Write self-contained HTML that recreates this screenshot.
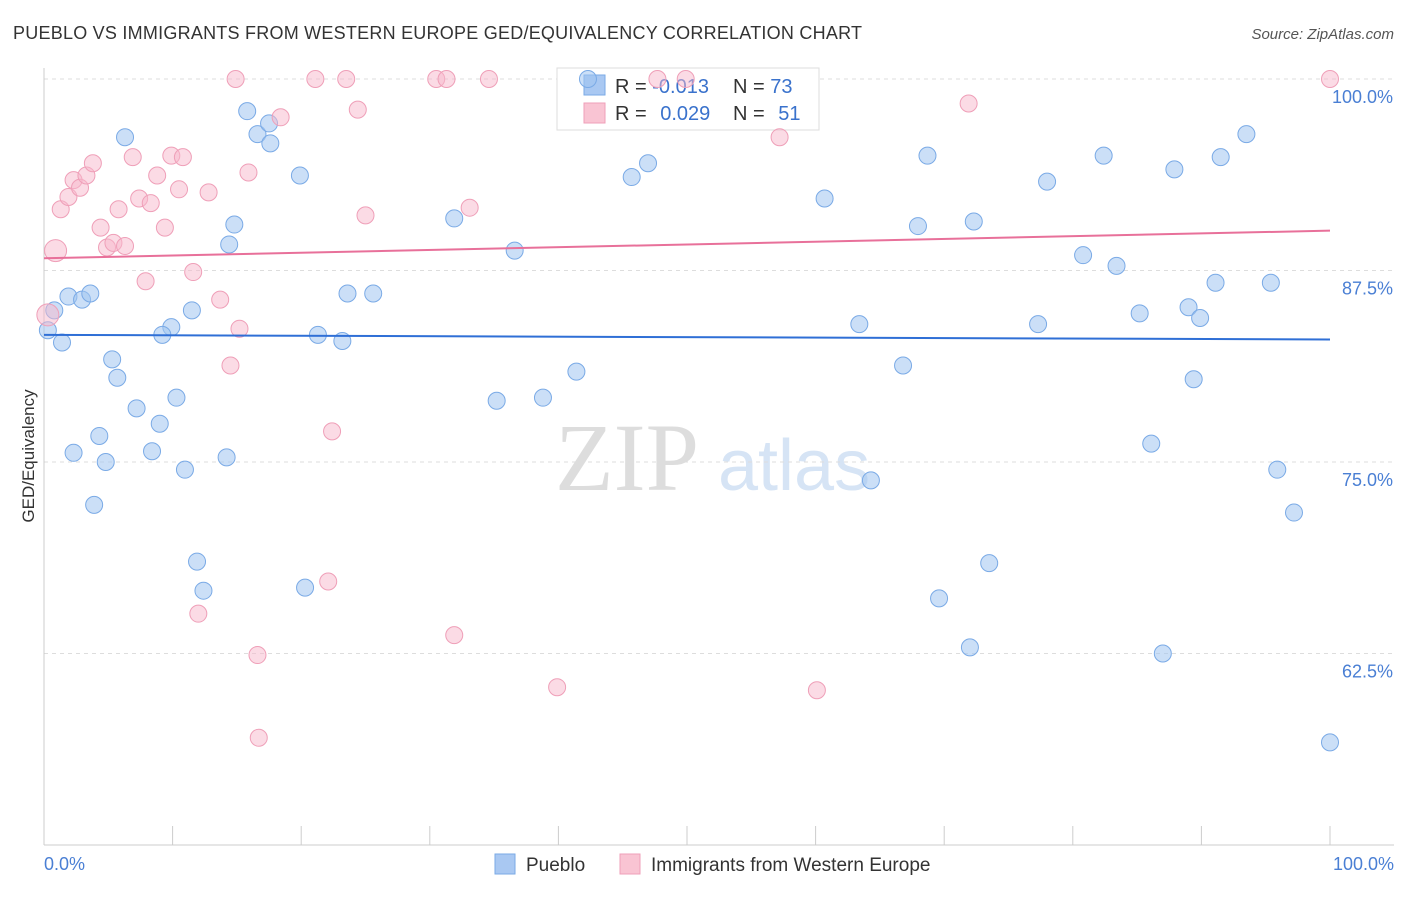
<!DOCTYPE html>
<html><head><meta charset="utf-8"><style>
body{margin:0;background:#fff;font-family:"Liberation Sans",sans-serif}
</style></head><body>
<svg width="1406" height="892" xmlns="http://www.w3.org/2000/svg" font-family="Liberation Sans, sans-serif">
<text x="13" y="39" font-size="18" fill="#333" textLength="849">PUEBLO VS IMMIGRANTS FROM WESTERN EUROPE GED/EQUIVALENCY CORRELATION CHART</text>
<text x="1394" y="39" font-size="15" fill="#555" text-anchor="end" font-style="italic">Source: ZipAtlas.com</text>
<text x="555" y="490" font-size="96" fill="#ddd" font-family="Liberation Serif, serif">ZIP</text>
<text x="718" y="490" font-size="72" fill="#d6e4f5">atlas</text>
<g id="grid"></g>
<line x1="44" y1="845" x2="1394" y2="845" stroke="#ccc"/>
<line x1="44" y1="68" x2="44" y2="845" stroke="#ccc"/>
<text transform="translate(34,456) rotate(-90)" font-size="17" fill="#333" text-anchor="middle">GED/Equivalency</text>
<text x="44" y="870" font-size="18" fill="#4a7fd4">0.0%</text>
<text x="1394" y="870" font-size="18" fill="#4a7fd4" text-anchor="end">100.0%</text>
<g>
<rect x="557" y="68" width="262" height="62" fill="#fff" stroke="#ddd"/>
<rect x="584" y="75" width="21" height="20" fill="#a9c8f2" stroke="#7aaae6"/>
<rect x="584" y="103" width="21" height="20" fill="#f9c4d3" stroke="#ef9fb8"/>
<text x="615" y="93" font-size="20" fill="#333">R = <tspan fill="#3a72cc">-0.013</tspan></text>
<text x="733" y="93" font-size="20" fill="#333">N = <tspan fill="#3a72cc">73</tspan></text>
<text x="615" y="120" font-size="20" fill="#333">R = <tspan fill="#3a72cc" dx="8">0.029</tspan></text>
<text x="733" y="120" font-size="20" fill="#333">N = <tspan fill="#3a72cc" dx="8">51</tspan></text>
</g>
<g id="pts"></g>
<g id="trend"></g>
<g>
<rect x="495" y="854" width="20" height="20" fill="#a9c8f2" stroke="#7aaae6"/>
<text x="526" y="871" font-size="19" fill="#333">Pueblo</text>
<rect x="620" y="854" width="20" height="20" fill="#f9c4d3" stroke="#ef9fb8"/>
<text x="651" y="871" font-size="19" fill="#333">Immigrants from Western Europe</text>
</g>
</svg>
<script>
const yTicks=[100,87.5,75,62.5];
const yTickLabels=["100.0%","87.5%","75.0%","62.5%"];
const xTicks=[0,10,20,30,40,50,60,70,80,90,100];
const blueX=[6.3,15.8,16.6,17.5,17.6,19.9,14.8,14.4,31.9,36.6,45.7,46.97,42.3,1.9,2.96,3.6,0.8,0.3,1.4,9.9,9.2,11.5,23.6,25.6,21.3,23.2,5.3,5.7,7.2,10.3,9.0,4.3,8.4,2.3,4.8,10.96,14.2,3.9,11.9,12.4,20.3,35.2,38.8,41.4,60.7,63.4,66.8,64.3,67.96,68.7,72.3,69.6,72.0,73.5,77.3,78.0,80.8,82.4,83.4,85.2,86.1,87.9,89.0,89.9,89.4,91.1,91.5,93.5,95.4,95.9,97.2,87.0,100];
const blueY=[96.2,97.9,96.4,97.1,95.8,93.7,90.5,89.2,90.9,88.8,93.6,94.5,100,85.8,85.6,86.0,84.9,83.6,82.8,83.8,83.3,84.9,86.0,86.0,83.3,82.9,81.7,80.5,78.5,79.2,77.5,76.7,75.7,75.6,75.0,74.5,75.3,72.2,68.5,66.6,66.8,79.0,79.2,80.9,92.2,84.0,81.3,73.8,90.4,95.0,90.7,66.1,62.9,68.4,84.0,93.3,88.5,95.0,87.8,84.7,76.2,94.1,85.1,84.4,80.4,86.7,94.9,96.4,86.7,74.5,71.7,62.5,56.7];
const pinkX=[0.9,0.3,1.3,1.9,2.3,2.8,3.3,3.8,4.4,4.9,5.4,5.8,6.3,6.9,7.4,8.3,8.8,9.4,9.9,10.8,10.5,12.8,7.9,11.6,13.7,15.2,14.5,15.9,18.4,14.9,21.1,23.5,24.4,25.0,30.5,31.3,34.6,33.1,22.4,22.1,12.0,16.6,16.7,31.9,39.9,47.7,49.9,57.2,60.1,71.9,100];
const pinkY=[88.8,84.6,91.5,92.3,93.4,92.9,93.7,94.5,90.3,89.0,89.3,91.5,89.1,94.9,92.2,91.9,93.7,90.3,95.0,94.9,92.8,92.6,86.8,87.4,85.6,83.7,81.3,93.9,97.5,100,100,100,98.0,91.1,100,100,100,91.6,77.0,67.2,65.1,62.4,57.0,63.7,60.3,100,100,96.2,60.1,98.4,100];
const blueTrend=[83.3,83.0];
const pinkTrend=[88.3,90.1];
const X=v=>44+v*12.86;
const Y=v=>79+(100-v)*15.32;
const NS="http://www.w3.org/2000/svg";
function mk(t,a,p){const e=document.createElementNS(NS,t);for(const k in a)e.setAttribute(k,a[k]);p.appendChild(e);return e;}
const grid=document.getElementById('grid');
yTicks.forEach((t,i)=>{
 const l=mk('line',{x1:44,x2:1394,y1:Y(t),y2:Y(t),stroke:'#ddd','stroke-dasharray':'4,4'},grid);
 
 
 const tx=mk('text',{x:1393,y:Y(t)+24,'font-size':18,fill:'#4a7fd4','text-anchor':'end'},grid);
 tx.textContent=yTickLabels[i];
 
 
});
xTicks.forEach(t=>{
 const l=mk('line',{x1:X(t),x2:X(t),y1:826,y2:845,stroke:'#ccc'},grid);
 
 
});
const pts=document.getElementById('pts');
blueX.forEach((x,i)=>{
 const c=mk('circle',{cx:X(x),cy:Y(blueY[i]),r:8.5,fill:'rgba(160,196,240,0.55)',stroke:'#7aaae6','stroke-width':1},pts);
 
 
});
pinkX.forEach((x,i)=>{
 const c=mk('circle',{cx:X(x),cy:Y(pinkY[i]),r:(i<2?11:8.5),fill:'rgba(247,184,203,0.5)',stroke:'#ef9fb8','stroke-width':1},pts);
 
 
});
const tr=document.getElementById('trend');
const b=mk('line',{x1:X(0),x2:X(100),y1:Y(blueTrend[0]),y2:Y(blueTrend[1]),stroke:'#2f6fd6','stroke-width':2},tr);


const p=mk('line',{x1:X(0),x2:X(100),y1:Y(pinkTrend[0]),y2:Y(pinkTrend[1]),stroke:'#e8709a','stroke-width':2},tr);


</script>
</body></html>
